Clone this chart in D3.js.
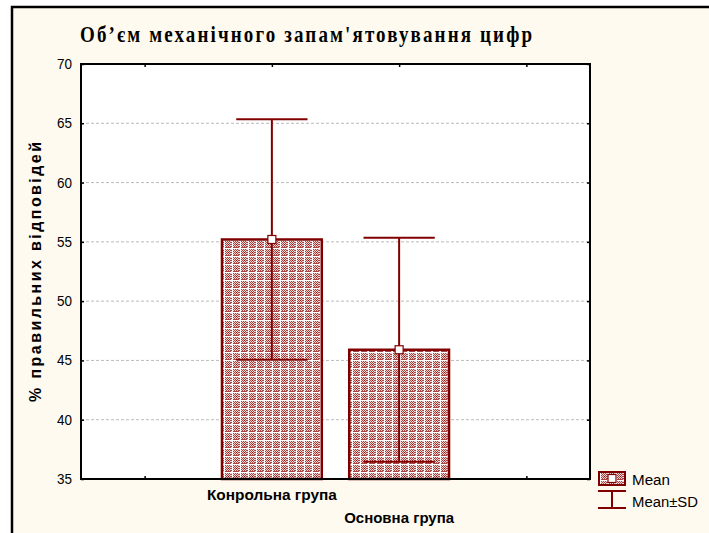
<!DOCTYPE html>
<html><head><meta charset="utf-8">
<script src="https://cdn.jsdelivr.net/npm/d3@7"></script>
<style>body{margin:0;background:#fff}svg{display:block}</style>
</head><body>
<script>
const title = "Об’єм механічного запам'ятовування цифр";
const yLabel = "% правильних відповідей";
const categories = ["Конрольна група", "Основна група"];
const catPos = [2, 3];
const means = [55.2, 45.9];
const sds = [10.15, 9.45];
const yTicks = [35, 40, 45, 50, 55, 60, 65, 70];
const xTicks = [1, 2, 3, 4];
const legendLabels = ["Mean", "Mean±SD"];

(function(){
const W = 709, H = 533;
const svg = d3.select("body").append("svg").attr("width", W).attr("height", H);
const red = "#800000";
const sans = "Arial, 'Liberation Sans', sans-serif";

const defs = svg.append("defs");
const pat = defs.append("pattern").attr("id", "hatch").attr("patternUnits", "userSpaceOnUse")
  .attr("width", 8).attr("height", 8);
pat.append("rect").attr("width", 8).attr("height", 8).attr("fill", "#efd2d2");
[[1,1],[3,1],[5,1],[2,2],[4,2],[6,2],[1,3],[3,3],[5,3],[2,4],[6,4],[1,5],[3,5],[5,5],[2,6],[4,6],[6,6],[1,7],[3,7],[5,7],[7,2],[7,4],[7,6],[2,7],[4,7],[6,7]].forEach(([px,py])=>{
  pat.append("rect").attr("x", px).attr("y", py).attr("width", 1).attr("height", 1).attr("fill", "#a84545");
});
pat.append("rect").attr("x", 0).attr("y", 0).attr("width", 8).attr("height", 1).attr("fill", "#ffffff");
pat.append("rect").attr("x", 0).attr("y", 0).attr("width", 1).attr("height", 8).attr("fill", "#ffffff");
pat.append("rect").attr("x", 4).attr("y", 4).attr("width", 1).attr("height", 1).attr("fill", "#8a0a0a");

// outer frame
svg.append("rect").attr("x", 12).attr("y", 7).attr("width", 760).attr("height", 600)
  .attr("fill", "#fffaef").attr("stroke", "#000").attr("stroke-width", 2.5);

const pL = 81, pR = 590, pT = 64, pB = 479;
const x = d3.scaleLinear().domain([0.5, 4.5]).range([pL, pR]);
const y = d3.scaleLinear().domain([35, 70]).range([pB, pT]);

svg.append("rect").attr("x", pL).attr("y", pT).attr("width", pR-pL).attr("height", pB-pT).attr("fill", "#fff");

// grid
svg.append("g").selectAll("line").data(yTicks.filter(t => t > 35 && t < 70)).join("line")
  .attr("x1", pL).attr("x2", pR).attr("y1", d => y(d)).attr("y2", d => y(d))
  .attr("stroke", "#bbb").attr("stroke-width", 1).attr("stroke-dasharray", "3,2");

// axes
const yAxis = d3.axisLeft(y).tickValues(yTicks).tickSize(-3).tickPadding(9).tickFormat(d3.format("d"));
const gy = svg.append("g").attr("transform", `translate(${pL},0)`).call(yAxis);
gy.attr("font-size", null).attr("font-family", null);
gy.select(".domain").remove();
gy.selectAll("text").attr("font-family", sans).attr("font-size", 14).attr("fill", "#000")
  .attr("textLength", 15).attr("lengthAdjust", "spacingAndGlyphs");
gy.selectAll("line").attr("stroke", "#000").attr("stroke-width", 1.5);
const yAxisR = d3.axisRight(y).tickValues(yTicks).tickSize(-3).tickFormat("");
const gyr = svg.append("g").attr("transform", `translate(${pR},0)`).call(yAxisR);
gyr.select(".domain").remove();
gyr.selectAll("line").attr("stroke", "#000").attr("stroke-width", 1.5);
const xAxisB = d3.axisBottom(x).tickValues(xTicks).tickSize(-3).tickFormat("");
const gxb = svg.append("g").attr("transform", `translate(0,${pB})`).call(xAxisB);
gxb.select(".domain").remove();
gxb.selectAll("line").attr("stroke", "#000").attr("stroke-width", 1.5);
const xAxisT = d3.axisTop(x).tickValues(xTicks).tickSize(-3).tickFormat("");
const gxt = svg.append("g").attr("transform", `translate(0,${pT})`).call(xAxisT);
gxt.select(".domain").remove();
gxt.selectAll("line").attr("stroke", "#000").attr("stroke-width", 1.5);

// bars
const band = x(2) - x(1);
const bw = band * 0.8;
const g = svg.append("g");
g.selectAll("rect.bar").data(means).join("rect").attr("class", "bar")
  .attr("x", (d,i) => x(catPos[i]) - bw/2 + 1).attr("width", bw - 2)
  .attr("y", d => y(d)).attr("height", d => pB - y(d))
  .attr("fill", "url(#hatch)").attr("stroke", red).attr("stroke-width", 2.5);

// error bars
const cw = band * 0.56;
means.forEach((m, i) => {
  const cx = x(catPos[i]);
  g.append("line").attr("x1", cx).attr("x2", cx).attr("y1", y(m + sds[i])).attr("y2", y(m - sds[i]))
    .attr("stroke", red).attr("stroke-width", 2);
  [m + sds[i], m - sds[i]].forEach(v => {
    g.append("line").attr("x1", cx - cw/2).attr("x2", cx + cw/2).attr("y1", y(v)).attr("y2", y(v))
      .attr("stroke", red).attr("stroke-width", 2);
  });
  g.append("rect").attr("x", cx - 4).attr("y", y(m) - 4).attr("width", 8).attr("height", 8)
    .attr("fill", "#fff").attr("stroke", red).attr("stroke-width", 1.2);
});

// plot frame
svg.append("rect").attr("x", pL).attr("y", pT).attr("width", pR-pL).attr("height", pB-pT)
  .attr("fill", "none").attr("stroke", "#000").attr("stroke-width", 2);

// title
svg.append("text").attr("transform", "translate(80,42) scale(1,1.2)").text(title)
  .attr("font-family", "'Liberation Serif', 'Times New Roman', serif").attr("font-weight", "bold")
  .attr("font-size", 19).attr("textLength", 452).attr("lengthAdjust", "spacing");

// y label
svg.append("text").attr("transform", "translate(41,272) rotate(-90)").attr("text-anchor", "middle")
  .text(yLabel).attr("font-family", sans).attr("font-weight", "bold")
  .attr("font-size", 16).attr("textLength", 260).attr("lengthAdjust", "spacing");

// x labels
const xLabY = [500, 523];
const xLabW = [130, 110];
categories.forEach((c, i) => {
  svg.append("text").attr("x", x(catPos[i]) - xLabW[i]/2).attr("y", xLabY[i]).text(c)
    .attr("font-family", sans).attr("font-weight", "bold").attr("font-size", 14)
    .attr("textLength", xLabW[i]).attr("lengthAdjust", "spacingAndGlyphs");
});

// legend
const lg = svg.append("g");
lg.append("rect").attr("x", 599).attr("y", 472).attr("width", 26).attr("height", 13)
  .attr("fill", "url(#hatch)").attr("stroke", red).attr("stroke-width", 2);
lg.append("rect").attr("x", 608).attr("y", 474.5).attr("width", 8).attr("height", 8)
  .attr("fill", "#fff").attr("stroke", red).attr("stroke-width", 1.2);
lg.append("line").attr("x1", 598).attr("x2", 626).attr("y1", 491).attr("y2", 491).attr("stroke", red).attr("stroke-width", 2);
lg.append("line").attr("x1", 598).attr("x2", 626).attr("y1", 508).attr("y2", 508).attr("stroke", red).attr("stroke-width", 2);
lg.append("line").attr("x1", 612).attr("x2", 612).attr("y1", 491).attr("y2", 508).attr("stroke", red).attr("stroke-width", 2);
const lgW = [38, 66];
legendLabels.forEach((t, i) => {
  lg.append("text").attr("x", 632).attr("y", [485, 507][i]).text(t)
    .attr("font-family", sans).attr("font-size", 14)
    .attr("textLength", lgW[i]).attr("lengthAdjust", "spacingAndGlyphs");
});
})();
</script>
</body></html>
